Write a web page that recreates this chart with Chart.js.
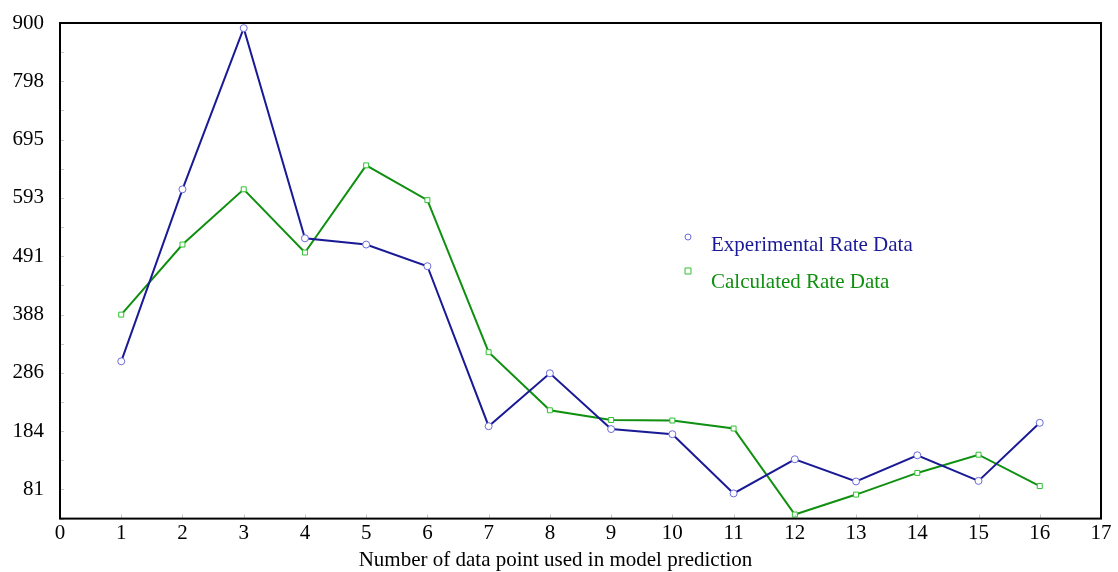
<!DOCTYPE html>
<html>
<head>
<meta charset="utf-8">
<script src="https://cdn.jsdelivr.net/npm/chart.js@4.4.0/dist/chart.umd.min.js"></script>
<style>
  html, body { margin: 0; padding: 0; background: #fff; }
  #wrap { width: 1118px; height: 572px; }
</style>
</head>
<body>
<div id="wrap"><canvas id="myChart"></canvas></div>
<script>
var pointNumbers = [1, 2, 3, 4, 5, 6, 7, 8, 9, 10, 11, 12, 13, 14, 15, 16];
var experimentalRate = [306, 608, 891, 522, 511, 473, 192, 285, 187, 178, 74, 134, 95, 141, 96, 198];
var calculatedRate = [388, 511, 608, 497, 650, 589, 322, 220, 203, 202, 188, 37, 72, 110, 142, 87];
var yTickLabels = ["81", "184", "286", "388", "491", "593", "695", "798", "900"];
var yFirstTick = 81;
var yLastTick = 900;

var yStep = (yLastTick - yFirstTick) / (yTickLabels.length - 1);
var yMin = yFirstTick - yStep / 2;

function toPoints(values) {
  var pts = [];
  for (var i = 0; i < pointNumbers.length; i++) {
    pts.push({ x: pointNumbers[i], y: values[i] });
  }
  return pts;
}

// box around the plot, small inner tick marks, legend inside the plot
var framePlugin = {
  id: "frame",
  afterDatasetsDraw: function (chart) {
    var ctx = chart.ctx;
    var a = chart.chartArea;
    var xs = chart.scales.x;
    var ys = chart.scales.y;
    ctx.save();
    ctx.strokeStyle = "#c8c8c8";
    ctx.lineWidth = 1;
    ys.ticks.forEach(function (t) {
      var py = Math.round(ys.getPixelForValue(t.value)) + 0.5;
      ctx.beginPath();
      ctx.moveTo(a.left, py);
      ctx.lineTo(a.left + 4, py);
      ctx.stroke();
    });
    xs.ticks.forEach(function (t) {
      var px = Math.round(xs.getPixelForValue(t.value)) + 0.5;
      ctx.beginPath();
      ctx.moveTo(px, a.bottom);
      ctx.lineTo(px, a.bottom - 4);
      ctx.stroke();
    });
    ctx.strokeStyle = "#000";
    ctx.lineWidth = 2;
    ctx.strokeRect(a.left, a.top, a.right - a.left, a.bottom - a.top);

    // legend
    var lx = a.left + 628;
    var ly = a.top + 214;
    ctx.font = "21px 'Liberation Serif'";
    ctx.textBaseline = "middle";
    chart.data.datasets.forEach(function (ds, i) {
      var y = ly + i * 34;
      ctx.lineWidth = 1;
      ctx.strokeStyle = ds.pointBorderColor;
      ctx.beginPath();
      if (ds.pointStyle === "rect") {
        ctx.rect(lx - 3, y - 3, 6, 6);
      } else {
        ctx.arc(lx, y, 3, 0, Math.PI * 2);
      }
      ctx.stroke();
      ctx.fillStyle = ds.borderColor;
      ctx.fillText(ds.label, lx + 23, ly + 8 + i * 37);
    });
    ctx.restore();
  }
};

var ctx = document.getElementById("myChart").getContext("2d");
new Chart(ctx, {
  type: "line",
  data: {
    datasets: [
      {
        label: "Experimental Rate Data",
        data: toPoints(experimentalRate),
        borderColor: "#1a1a96",
        borderWidth: 2,
        pointStyle: "circle",
        pointRadius: 3.5,
        pointBorderWidth: 1,
        pointBorderColor: "#6a6ad8",
        pointBackgroundColor: "#ffffff",
        tension: 0,
        fill: false,
      },
      {
        label: "Calculated Rate Data",
        data: toPoints(calculatedRate),
        borderColor: "#109010",
        borderWidth: 2,
        pointStyle: "rect",
        pointRadius: 3.5,
        pointBorderWidth: 1,
        pointBorderColor: "#30c030",
        pointBackgroundColor: "#ffffff",
        tension: 0,
        fill: false,
      },
    ],
  },
  options: {
    responsive: true,
    maintainAspectRatio: false,
    animation: false,
    layout: { padding: { left: 10, right: 17, top: 23, bottom: -1 } },
    plugins: {
      legend: { display: false },
      tooltip: { enabled: false },
      title: {
        display: true,
        position: "bottom",
        text: "Number of data point used in model prediction",
        color: "#000",
        padding: { top: 0, bottom: 0 },
        font: { family: "Liberation Serif", size: 21, weight: "normal" },
      },
    },
    scales: {
      x: {
        type: "linear",
        min: 0,
        max: 17,
        ticks: {
          stepSize: 1,
          color: "#000",
          padding: 2,
          font: { family: "Liberation Serif", size: 21 },
        },
        grid: { display: false, drawTicks: false },
        border: { display: false },
      },
      y: {
        type: "linear",
        min: yMin,
        max: yLastTick,
        afterBuildTicks: function (scale) {
          var t = [];
          for (var k = 0; k <= (yTickLabels.length - 1) * 2 + 1; k++) {
            t.push({ value: Math.min(yMin + k * yStep / 2, yLastTick) });
          }
          scale.ticks = t;
        },
        afterFit: function (scale) {
          scale.width = 50;
          scale.paddingTop = 0;
          scale.paddingBottom = 0;
        },
        ticks: {
          color: "#000",
          padding: 16,
          autoSkip: false,
          font: { family: "Liberation Serif", size: 21 },
          callback: function (value, index) {
            return index % 2 === 1 ? yTickLabels[(index - 1) / 2] : "";
          },
        },
        grid: { display: false, drawTicks: false },
        border: { display: false },
      },
    },
  },
  plugins: [framePlugin],
});
</script>
</body>
</html>
